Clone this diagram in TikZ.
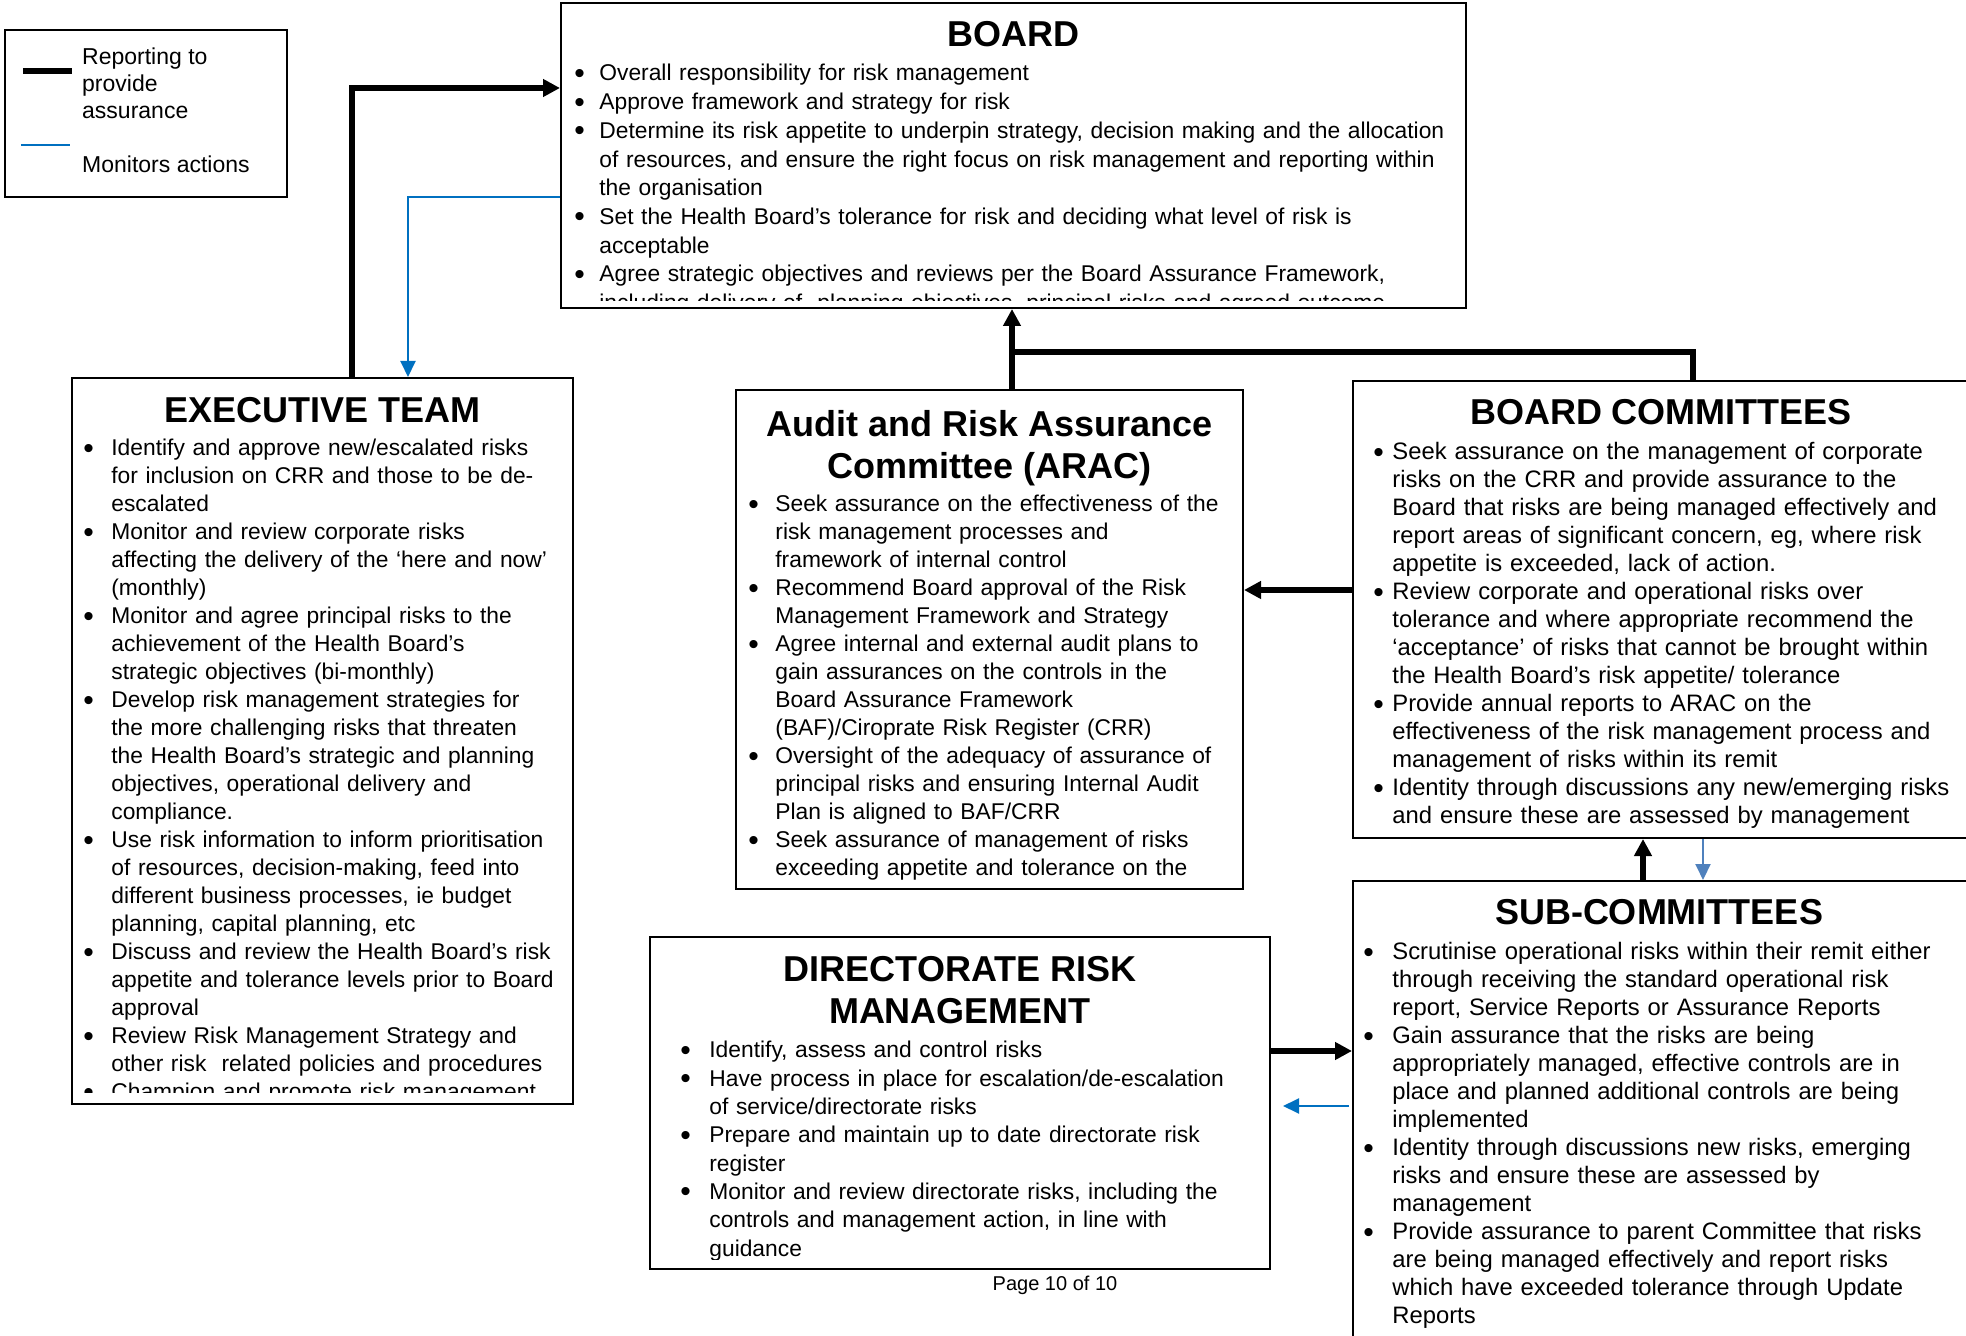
\documentclass[tikz,border=0pt]{standalone}
\usepackage{fontspec}
\setmainfont{Liberation Sans}
\setsansfont{Liberation Sans}
\usepackage{xcolor}
\usepackage{tikz}
\usetikzlibrary{positioning,arrows.meta,calc}

\definecolor{monblue}{HTML}{0070C0}
\definecolor{paleblue}{HTML}{4F81BD}

\newlength{\bulind}
\newcommand{\ritem}[1]{\noindent\hangindent=\bulind\hangafter=1\makebox[\bulind][l]{\raisebox{-1.2pt}{\fontsize{15}{14}\selectfont\textbullet}}#1\par}

\begin{document}
\begin{tikzpicture}[font=\sffamily, x=0.5pt, y=-0.5pt,
		box/.style={draw, line width=1pt, inner sep=0pt},
		ttl/.style={font=\bfseries\fontsize{18}{21}\selectfont, align=center, inner sep=0pt},
		body/.style={inner sep=0pt, text width=470pt, font=\fontsize{11.4}{14}\selectfont, execute at begin node={\setlength{\bulind}{#1}\let\\\newline}},
		report/.style={line width=2.8pt, -{Triangle[length=8.5pt,width=8.5pt]}},
		monitor/.style={draw=monblue, line width=1pt, -{Triangle[length=8pt,width=7.5pt]}}]
		\useasboundingbox (0,0) rectangle (1966,1336);

		\node[box, line width=1.2pt, minimum width=141pt, minimum height=83.5pt] (legend) at (146,113.5) {};
		\node[box, minimum width=452.5pt, minimum height=152.5pt] (board) at (1013.5,155.5) {};
		\node[box, minimum width=250.5pt, minimum height=363pt] (exec) at (322.5,741) {};
		\node[box, minimum width=253.5pt, minimum height=249.5pt] (arac) at (989.5,639.5) {};
		\node[box, minimum width=313.5pt, minimum height=228.5pt] (bc) at (1666.5,609.5) {};
		\node[box, minimum width=313.5pt, minimum height=234.5pt] (sc) at (1666.5,1115.5) {};
		\node[box, minimum width=310pt, minimum height=166pt] (drm) at (960,1103) {};

		\draw[line width=3pt] ($(legend.north west)+(19,42)$) -- ++(49,0);
		\draw[monblue, line width=1pt] ($(legend.north west)+(17,116)$) -- ++(49,0);
		\node[align=left, inner sep=0pt, font=\fontsize{11.5}{13.5}\selectfont, below right=9.25pt and 39pt of legend.north west] (legtxt) {Reporting to\\provide\\assurance\\[13.5pt]Monitors actions};

		\node[ttl, below=9.5pt of board.north] (boardttl) {BOARD};
		\node[ttl, below=10pt of exec.north] (execttl) {EXECUTIVE TEAM};
		\node[ttl, below=10.5pt of arac.north] (aracttl) {Audit and Risk Assurance\\Committee (ARAC)};
		\node[ttl, below=9.5pt of bc.north, xshift=-2.75pt] (bcttl) {BOARD COMMITTEES};
		\node[ttl, below=9.5pt of sc.north, xshift=-3.75pt] (scttl) {SUB-COMMITTEES};
		\node[ttl, below=10pt of drm.north] (drmttl) {DIRECTORATE RISK\\MANAGEMENT};

		\begin{scope}
			\clip (board.north west) rectangle ([yshift=4pt]board.south east);
			\node[body=12.5pt, font=\fontsize{11.4}{14.35}\selectfont, below right=31pt and 7pt of board.north west] (boardtxt) {%
				\ritem{Overall responsibility for risk management}
				\ritem{Approve framework and strategy for risk}
				\ritem{Determine its risk appetite to underpin strategy, decision making and the allocation\\
				of resources, and ensure the right focus on risk management and reporting within\\
				the organisation}
				\ritem{Set the Health Board’s tolerance for risk and deciding what level of risk is\\
				acceptable}
				\ritem{Agree strategic objectives and reviews per the Board Assurance Framework,\\
				including delivery of~ planning objectives, principal risks and agreed outcome}};
		\end{scope}

		\begin{scope}
			\clip (exec.north west) rectangle ([yshift=6.5pt]exec.south east);
			\node[body=14pt, below right=31pt and 6pt of exec.north west] (exectxt) {%
				\ritem{Identify and approve new/escalated risks\\
				for inclusion on CRR and those to be de-\\
				escalated}
				\ritem{Monitor and review corporate risks\\
				affecting the delivery of the ‘here and now’\\
				(monthly)}
				\ritem{Monitor and agree principal risks to the\\
				achievement of the Health Board’s\\
				strategic objectives (bi-monthly)}
				\ritem{Develop risk management strategies for\\
				the more challenging risks that threaten\\
				the Health Board’s strategic and planning\\
				objectives, operational delivery and\\
				compliance.}
				\ritem{Use risk information to inform prioritisation\\
				of resources, decision-making, feed into\\
				different business processes, ie budget\\
				planning, capital planning, etc}
				\ritem{Discuss and review the Health Board’s risk\\
				appetite and tolerance levels prior to Board\\
				approval}
				\ritem{Review Risk Management Strategy and\\
				other risk~ related policies and procedures}
				\ritem{Champion and promote risk management}};
		\end{scope}

		\node[body=13.5pt, below right=53pt and 6.5pt of arac.north west] (aractxt) {%
			\ritem{Seek assurance on the effectiveness of the\\
			risk management processes and\\
			framework of internal control}
			\ritem{Recommend Board approval of the Risk\\
			Management Framework and Strategy}
			\ritem{Agree internal and external audit plans to\\
			gain assurances on the controls in the\\
			Board Assurance Framework\\
			(BAF)/Ciroprate Risk Register (CRR)}
			\ritem{Oversight of the adequacy of assurance of\\
			principal risks and ensuring Internal Audit\\
			Plan is aligned to BAF/CRR}
			\ritem{Seek assurance of management of risks\\
			exceeding appetite and tolerance on the}};

		\node[body=9.5pt, font=\fontsize{11.9}{14}\selectfont, below right=31pt and 10.5pt of bc.north west] (bctxt) {%
			\ritem{Seek assurance on the management of corporate\\
			risks on the CRR and provide assurance to the\\
			Board that risks are being managed effectively and\\
			report areas of significant concern, eg, where risk\\
			appetite is exceeded, lack of action.}
			\ritem{Review corporate and operational risks over\\
			tolerance and where appropriate recommend the\\
			‘acceptance’ of risks that cannot be brought within\\
			the Health Board’s risk appetite/ tolerance}
			\ritem{Provide annual reports to ARAC on the\\
			effectiveness of the risk management process and\\
			management of risks within its remit}
			\ritem{Identity through discussions any new/emerging risks\\
			and ensure these are assessed by management}};

		\node[body=14.5pt, font=\fontsize{11.9}{14}\selectfont, below right=31pt and 5.5pt of sc.north west] (sctxt) {%
			\ritem{Scrutinise operational risks within their remit either\\
			through receiving the standard operational risk\\
			report, Service Reports or Assurance Reports}
			\ritem{Gain assurance that the risks are being\\
			appropriately managed, effective controls are in\\
			place and planned additional controls are being\\
			implemented}
			\ritem{Identity through discussions new risks, emerging\\
			risks and ensure these are assessed by\\
			management}
			\ritem{Provide assurance to parent Committee that risks\\
			are being managed effectively and report risks\\
			which have exceeded tolerance through Update\\
			Reports}};

		\begin{scope}
			\clip (drm.north west) rectangle ([yshift=5.5pt]drm.south east);
			\node[body=14.5pt, font=\fontsize{11.4}{14.15}\selectfont, below right=52.5pt and 15.5pt of drm.north west] (drmtxt) {%
				\ritem{Identify, assess and control risks}
				\ritem{Have process in place for escalation/de-escalation\\
				of service/directorate risks}
				\ritem{Prepare and maintain up to date directorate risk\\
				register}
				\ritem{Monitor and review directorate risks, including the\\
				controls and management action, in line with\\
				guidance}};
		\end{scope}

		\node[font=\fontsize{10}{12}\selectfont, anchor=base, inner sep=0pt] (pagenum) at (1055,1290) {Page 10 of 10};

		\coordinate (aracup) at ($(arac.north)+(22.5,0)$);
		\coordinate (bcarm) at ($(bc.west)+(0,-19.5)$);
		\coordinate (scup) at ($(sc.north)+(-23.5,0)$);
		\coordinate (bcdown) at ($(bc.south)+(36.5,0)$);
		\coordinate (drmout) at ($(drm.east)+(0,-52)$);
		\coordinate (scback) at ($(sc.west)+(-3,-9.5)$);

		\draw[report] ($(exec.north)+(29.5,0)$) |- ($(board.west)+(0,-67.5)$);
		\draw[monitor] ($(board.west)+(0,41.5)$) -| ($(exec.north)+(85.5,0)$);
		\draw[report] (aracup) -- (aracup |- board.south);
		\draw[line width=2.8pt] ($(bc.north)+(26.5,0)$) |- ($(aracup)+(0,-37)$);
		\draw[report] (bcarm) -- (bcarm -| arac.east);
		\draw[report] (scup) -- (scup |- bc.south);
		\draw[monitor, draw=paleblue] (bcdown) -- (bcdown |- sc.north);
		\draw[report] (drmout) -- (drmout -| sc.west);
		\draw[monitor, shorten >=6pt] (scback) -- (scback -| drm.east);
	\end{tikzpicture}
\end{document}
